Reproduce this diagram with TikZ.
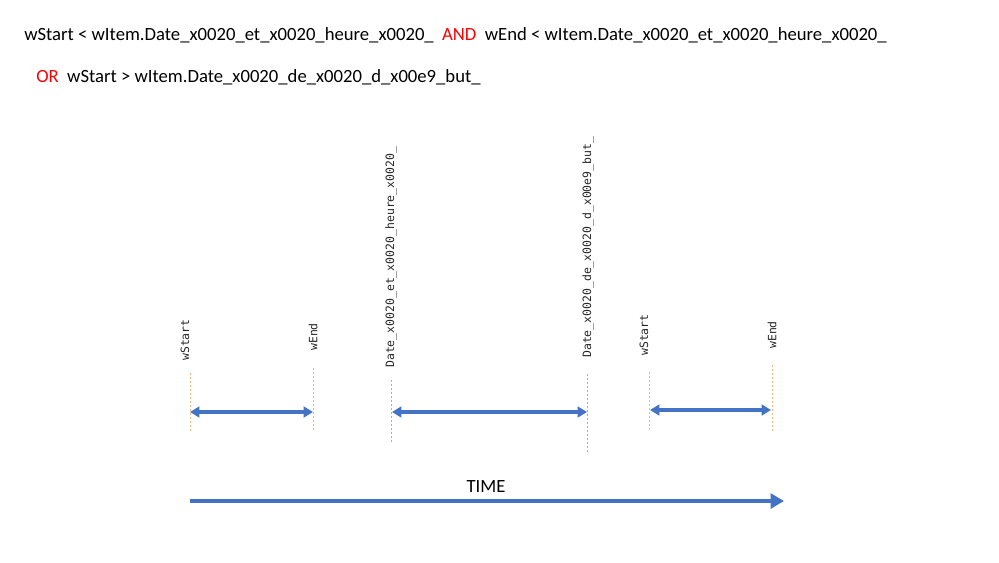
\documentclass[tikz,border=0pt]{standalone}
\usepackage{fontspec}
\setmainfont{Carlito}
\setmonofont{DejaVu Sans Mono}
\usepackage{xcolor}
\definecolor{timeBlue}{RGB}{68, 114, 196}
\definecolor{winOrange}{RGB}{244, 177, 131}
\definecolor{itemGray}{RGB}{175, 175, 175}
\usetikzlibrary{arrows.meta, positioning}

\begin{document}
\begin{tikzpicture}[x=0.75pt, y=-0.75pt,
  cond/.style={anchor=base west, inner sep=0pt, font=\fontsize{14}{16}\selectfont},
  tag/.style={rotate=90, anchor=west, inner sep=0pt, font=\ttfamily\fontsize{8.6}{10}\selectfont, text=black!85},
  wguide/.style={draw=winOrange, dash pattern=on 1.5pt off 1.5pt, line width=0.55pt},
  iguide/.style={draw=itemGray, dash pattern=on 1.5pt off 1.5pt, line width=0.55pt},
  span/.style={{Triangle[length=7pt, width=8pt]}-{Triangle[length=7pt, width=8pt]}, draw=timeBlue, line width=2.8pt},
  tarr/.style={-{Triangle[length=10pt, width=11pt]}, draw=timeBlue, line width=3.4pt},
]
  \useasboundingbox (0,0) rectangle (999,562);

  % Condition text
  \node[cond] (c1) at (24,40) {wStart < wItem.Date\_x0020\_et\_x0020\_heure\_x0020\_\hspace{0.45em}\textcolor{red}{AND}\hspace{0.45em}wEnd < wItem.Date\_x0020\_et\_x0020\_heure\_x0020\_};
  \node[cond] (c2) at (36,82) {\textcolor{red}{OR}\hspace{0.45em}wStart > wItem.Date\_x0020\_de\_x0020\_d\_x00e9\_but\_};

  % Window before the item
  \coordinate (s1t) at (190,373); \coordinate (s1b) at (190,431);
  \coordinate (e1t) at (313,368); \coordinate (e1b) at (313,431);
  \node[tag] (ls1) at (185,361) {wStart};
  \node[tag] (le1) at (313,351) {wEnd};
  \draw[wguide] (s1t) -- (s1b);
  \draw[wguide] (e1t) -- (e1b);
  \coordinate (s1) at (190,412); \coordinate (e1) at (313,412);
  \draw[span] (s1) -- (e1);

  % Item
  \coordinate (it) at (391,380); \coordinate (ib) at (391,443);
  \coordinate (dt) at (587,374); \coordinate (db) at (587,452);
  \node[tag] (li) at (391,368) {Date\_x0020\_et\_x0020\_heure\_x0020\_};
  \node[tag] (ld) at (588,358) {Date\_x0020\_de\_x0020\_d\_x00e9\_but\_};
  \draw[iguide] (it) -- (ib);
  \draw[iguide] (dt) -- (db);
  \coordinate (i1) at (392,412); \coordinate (d1) at (587,412);
  \draw[span] (i1) -- (d1);

  % Window after the item
  \coordinate (s2t) at (649,372); \coordinate (s2b) at (649,429);
  \coordinate (e2t) at (772,365); \coordinate (e2b) at (772,431);
  \node[tag] (ls2) at (644,356) {wStart};
  \node[tag] (le2) at (772,349) {wEnd};
  \draw[wguide] (s2t) -- (s2b);
  \draw[wguide] (e2t) -- (e2b);
  \coordinate (s2) at (650,410); \coordinate (e2) at (771,410);
  \draw[span] (s2) -- (e2);

  % Time axis
  \coordinate (t0) at (190,501); \coordinate (t1) at (784,501);
  \draw[tarr] (t0) -- (t1);
  \node[font=\fontsize{14}{16}\selectfont, above=3pt of t0, xshift=296*0.75pt] (tl) {TIME};
\end{tikzpicture}
\end{document}
